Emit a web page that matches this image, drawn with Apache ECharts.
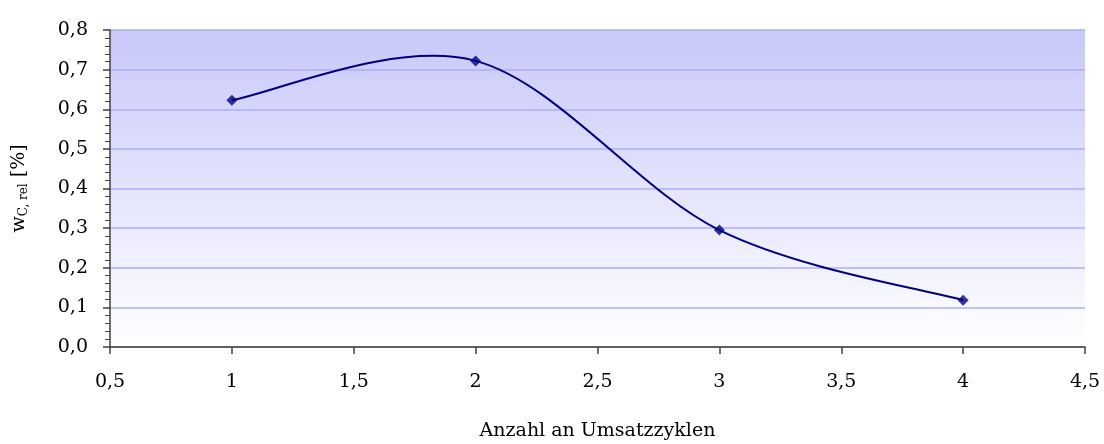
<!DOCTYPE html>
<html>
<head>
<meta charset="utf-8">
<script src="https://cdn.jsdelivr.net/npm/echarts@6/dist/echarts.min.js"></script>
<style>
  html, body { margin: 0; padding: 0; background: #ffffff; }
  #chart { width: 1104px; height: 444px; }
</style>
</head>
<body>
<div id="chart"></div>
<script>
// Relative carbon content over turnover cycles
const cycles = [1, 2, 3, 4];
const wCrel = [0.623, 0.722, 0.295, 0.118];

const xTicks = { min: 0.5, max: 4.5, step: 0.5 };
const yTicks = { min: 0, max: 0.8, step: 0.1 };

const xAxisTitle = 'Anzahl an Umsatzzyklen';

const FONT = '"DejaVu Serif", "Liberation Serif", serif';
const FS = 19;
const LINE_COLOR = '#000080';
const comma = v => String(v).replace('.', ',');

// Smoothed connecting line: cubic Bezier segments whose control points
// follow the neighbouring points (tangent = (P[i+1] - P[i-1]) / 6).
function renderSmoothSegment(params, api) {
  const i = params.dataIndex;
  const n = cycles.length;
  if (i >= n - 1) return null;
  const P = j => {
    const k = Math.max(0, Math.min(n - 1, j));
    return api.coord([cycles[k], wCrel[k]]);
  };
  const p0 = P(i - 1), p1 = P(i), p2 = P(i + 1), p3 = P(i + 2);
  const t = 1 / 6;
  return {
    type: 'bezierCurve',
    shape: {
      x1: p1[0], y1: p1[1],
      x2: p2[0], y2: p2[1],
      cpx1: p1[0] + (p2[0] - p0[0]) * t,
      cpy1: p1[1] + (p2[1] - p0[1]) * t,
      cpx2: p2[0] - (p3[0] - p1[0]) * t,
      cpy2: p2[1] - (p3[1] - p1[1]) * t
    },
    style: { stroke: LINE_COLOR, lineWidth: 2, fill: null }
  };
}

const points = cycles.map((c, i) => [c, wCrel[i]]);

const chart = echarts.init(document.getElementById('chart'));
chart.setOption({
  animation: false,
  backgroundColor: '#ffffff',
  grid: {
    left: 110, right: 19, top: 30, bottom: 97,
    containLabel: false,
    outerBoundsMode: 'none',
    show: true,
    borderWidth: 0,
    backgroundColor: {
      type: 'linear', x: 0, y: 0, x2: 0, y2: 1,
      colorStops: [
        { offset: 0, color: '#c8c8fa' },
        { offset: 1, color: '#ffffff' }
      ]
    }
  },
  xAxis: {
    type: 'value',
    min: xTicks.min, max: xTicks.max, interval: xTicks.step,
    name: xAxisTitle,
    nameLocation: 'middle',
    nameGap: 75,
    nameTextStyle: { fontFamily: FONT, fontSize: FS, color: '#000' },
    axisLine: { onZero: false, lineStyle: { color: '#404040', width: 1.5 } },
    axisTick: { show: true, length: 7, lineStyle: { color: '#404040', width: 1.5 } },
    axisLabel: { fontFamily: FONT, fontSize: FS, color: '#000', margin: 26, formatter: comma },
    splitLine: { show: false }
  },
  yAxis: {
    type: 'value',
    min: yTicks.min, max: yTicks.max, interval: yTicks.step,
    name: '{w|w}{sub|C, rel}{w| [%]}',
    nameLocation: 'middle',
    nameGap: 80,
    nameRotate: 90,
    nameTextStyle: {
      rich: {
        w: { fontFamily: FONT, fontSize: FS, color: '#000' },
        sub: { fontFamily: FONT, fontSize: 12, color: '#000', verticalAlign: 'bottom', padding: [10, 0, 0, 0] }
      }
    },
    axisLine: { show: true, lineStyle: { color: '#404040', width: 1.5 } },
    axisTick: { show: true, length: 7, lineStyle: { color: '#404040', width: 1.5 } },
    minorTick: { show: true, splitNumber: 5, length: 5, lineStyle: { color: '#404040', width: 1 } },
    axisLabel: { fontFamily: FONT, fontSize: FS, color: '#000', margin: 22, formatter: v => v.toFixed(1).replace('.', ',') },
    splitLine: { show: true, lineStyle: { color: '#aeaef4', width: 1.5 } }
  },
  series: [
    {
      type: 'custom',
      renderItem: renderSmoothSegment,
      data: points,
      clip: true,
      z: 2
    },
    {
      type: 'scatter',
      data: points,
      symbol: 'diamond',
      symbolSize: 11,
      itemStyle: { color: LINE_COLOR },
      z: 3
    }
  ]
});
</script>
</body>
</html>
